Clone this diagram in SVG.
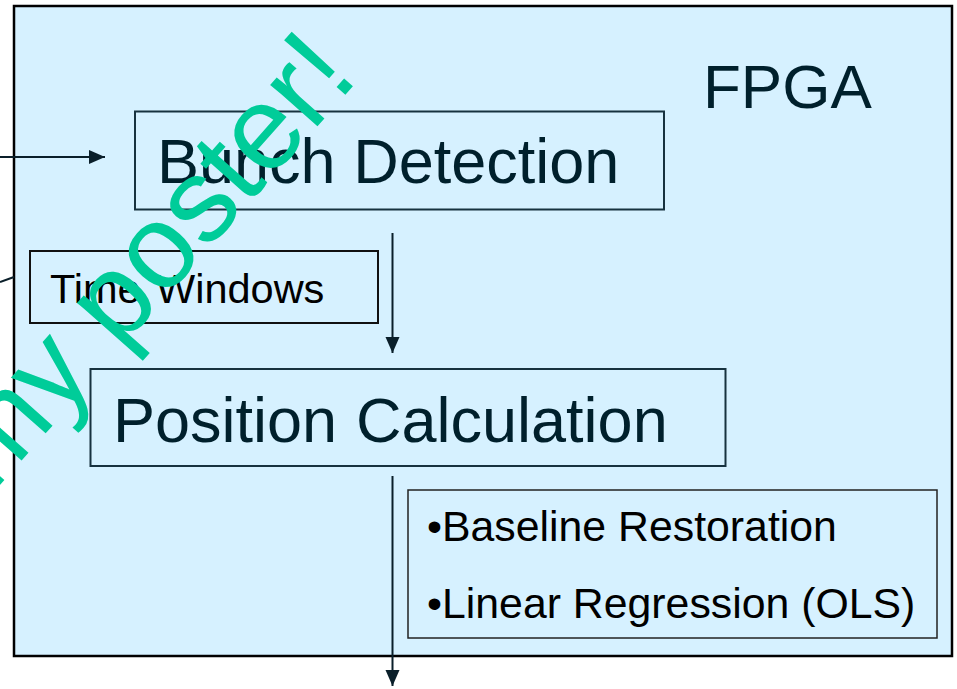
<svg xmlns="http://www.w3.org/2000/svg" width="957" height="689" viewBox="0 0 957 689">
  <defs>
    <marker id="arrow" viewBox="0 0 16 14" refX="16" refY="7" markerWidth="16" markerHeight="15" markerUnits="userSpaceOnUse" orient="auto">
      <path d="M0,0 L16,7 L0,14 Z" fill="#0a1f2a"/>
    </marker>
    <style>
      .box { fill: #d6f1ff; }
      .navy { stroke: #17323f; stroke-width: 2; fill: none; }
      .dark { stroke: #111; stroke-width: 2; fill: none; }
      .t { font-family: "Liberation Sans", Arial, sans-serif; }
      .title { fill: #00202c; font-size: 63px; }
      .small { fill: #000; font-size: 41.5px; }
      .bullet { fill: #000; font-size: 42.8px; }
      .wire { stroke: #0a1f2a; stroke-width: 2; fill: none; }
      .mark { fill: #00cc99; font-size: 119px; }
    </style>
  </defs>

  <rect width="957" height="689" fill="#ffffff"/>

  <!-- FPGA enclosure -->
  <g id="fpga">
    <rect x="14" y="6" width="938" height="650" class="box" stroke="#000" stroke-width="2.5"/>
    <text class="t title" x="703" y="108" style="font-size:62px">FPGA</text>
  </g>

  <g id="bunch-detection">
    <rect x="135" y="111.5" width="529" height="98" class="navy"/>
    <text class="t title" x="157" y="183">Bunch Detection</text>
  </g>

  <g id="time-windows">
    <rect x="30" y="251" width="348" height="72" class="dark"/>
    <text class="t small" x="50" y="303">Time<tspan x="156">Windows</tspan></text>
  </g>

  <g id="position-calculation">
    <rect x="90.5" y="369" width="635" height="97" class="navy"/>
    <text class="t title" x="113" y="442">Position<tspan x="356">Calculation</tspan></text>
  </g>

  <g id="methods">
    <rect x="408" y="490" width="529" height="148" fill="none" stroke="#222" stroke-width="1.5"/>
    <text class="t bullet" x="427" y="541">•Baseline Restoration</text>
    <text class="t bullet" x="427" y="618">•Linear Regression (OLS)</text>
  </g>

  <!-- connectors -->
  <g id="connectors">
    <line x1="0" y1="157" x2="105" y2="157" class="wire" marker-end="url(#arrow)"/>
    <line x1="0" y1="282" x2="14" y2="277" class="wire" stroke-width="2.5"/>
    <line x1="392.5" y1="233" x2="392.5" y2="353" class="wire" marker-end="url(#arrow)"/>
    <line x1="392.5" y1="476" x2="392.5" y2="686" class="wire" marker-end="url(#arrow)"/>
  </g>

  <!-- overlay text -->
  <text class="t mark" transform="translate(-8,494) rotate(-48.5)">my poster!</text>
</svg>
